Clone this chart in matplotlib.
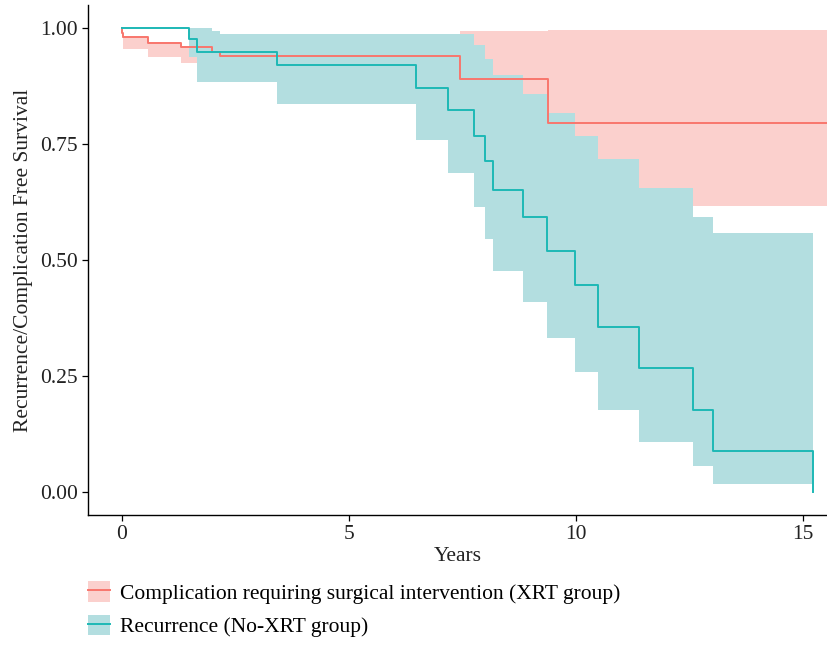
import numpy as np
import matplotlib
matplotlib.use("Agg")
import matplotlib.pyplot as plt
from matplotlib.patches import Patch
from matplotlib.lines import Line2D
from matplotlib.legend_handler import HandlerTuple

plt.rcParams['font.family'] = ['Liberation Serif', 'DejaVu Serif']

# XRT group: complication requiring surgical intervention
times_red = [0.0, 0.01, 0.04, 0.59, 1.30, 2.00, 2.17, 7.45, 9.39]
surv_red = [1.0, 0.990, 0.980, 0.969, 0.960, 0.949, 0.939, 0.891, 0.795]
upper_red = [1.0, 0.996, 0.980, 0.970, 0.960, 0.949, 0.985, 0.994, 0.997]
lower_red = [1.0, 0.978, 0.956, 0.938, 0.924, 0.910, 0.900, 0.830, 0.616]

# No-XRT group: recurrence
times_teal = [0.0, 1.49, 1.65, 2.00, 2.17, 3.43, 6.48, 7.18, 7.75, 7.99,
              8.17, 8.84, 9.36, 9.98, 10.48, 11.39, 12.59, 13.02, 15.23]
surv_teal = [1.0, 0.976, 0.949, 0.949, 0.949, 0.920, 0.872, 0.823, 0.768,
             0.714, 0.652, 0.593, 0.519, 0.447, 0.355, 0.267, 0.176, 0.088,
             0.0]
upper_teal = [1.0, 1.0, 1.0, 0.993, 0.987, 0.987, 0.987, 0.987, 0.963,
              0.933, 0.899, 0.859, 0.817, 0.768, 0.717, 0.656, 0.593, 0.559,
              0.559]
lower_teal = [1.0, 0.937, 0.884, 0.884, 0.884, 0.837, 0.759, 0.687, 0.614,
              0.545, 0.477, 0.410, 0.331, 0.259, 0.176, 0.107, 0.055, 0.016,
              0.016]

labels = ['Complication requiring surgical intervention (XRT group)',
          'Recurrence (No-XRT group)']
x_ticks = [0, 5, 10, 15]
y_ticks = [0.0, 0.25, 0.5, 0.75, 1.0]

red_line, red_fill = '#F8766D', '#FBD0CD'
teal_line, teal_fill = '#1DB8B5', '#B3DEE0'
fs = 15.5

fig = plt.figure(figsize=(8.27, 6.46), dpi=100)
ax = fig.add_axes([0.1064, 0.2028, 0.8936, 0.7895])

xmin, xmax = -0.74, 15.53

# red group runs on to the right edge of the panel
t_r = np.append(times_red, xmax + 0.5)
s_r = np.append(surv_red, surv_red[-1])
u_r = np.append(upper_red, upper_red[-1])
l_r = np.append(lower_red, lower_red[-1])

ax.fill_between(t_r, l_r, u_r, step='post', color=red_fill, lw=0)
ax.fill_between(times_teal, lower_teal, upper_teal, step='post',
                color=teal_fill, lw=0)
ax.step(t_r, s_r, where='post', color=red_line, lw=1.4)
ax.step(times_teal, surv_teal, where='post', color=teal_line, lw=1.4)

ax.set_xlim(xmin, xmax)
ax.set_ylim(-0.05, 1.05)
ax.set_xticks(x_ticks)
ax.set_xticklabels([str(v) for v in x_ticks])
ax.set_yticks(y_ticks)
ax.set_yticklabels(['%.2f' % v for v in y_ticks])
ax.tick_params(labelsize=fs, length=4, width=0.9, colors='black',
               labelcolor='#222222')
for s in ['top', 'right']:
    ax.spines[s].set_visible(False)
for s in ['left', 'bottom']:
    ax.spines[s].set_linewidth(1.0)
ax.set_xlabel('Years', fontsize=fs, color='#222222', labelpad=2)
ax.set_ylabel('Recurrence/Complication Free Survival', fontsize=fs,
              color='#222222', labelpad=5)

handles = [(Patch(facecolor=red_fill, edgecolor='none'),
            Line2D([], [], color=red_line, lw=1.4)),
           (Patch(facecolor=teal_fill, edgecolor='none'),
            Line2D([], [], color=teal_line, lw=1.4))]
fig.legend(handles, labels, loc='upper left', bbox_to_anchor=(0.106, 0.1),
           frameon=False, fontsize=fs, handlelength=1.05, handleheight=1.1,
           handletextpad=0.45, labelspacing=0.5, borderpad=0,
           borderaxespad=0,
           handler_map={tuple: HandlerTuple(ndivide=1, pad=0)})

fig.savefig('out.png', dpi=100)
